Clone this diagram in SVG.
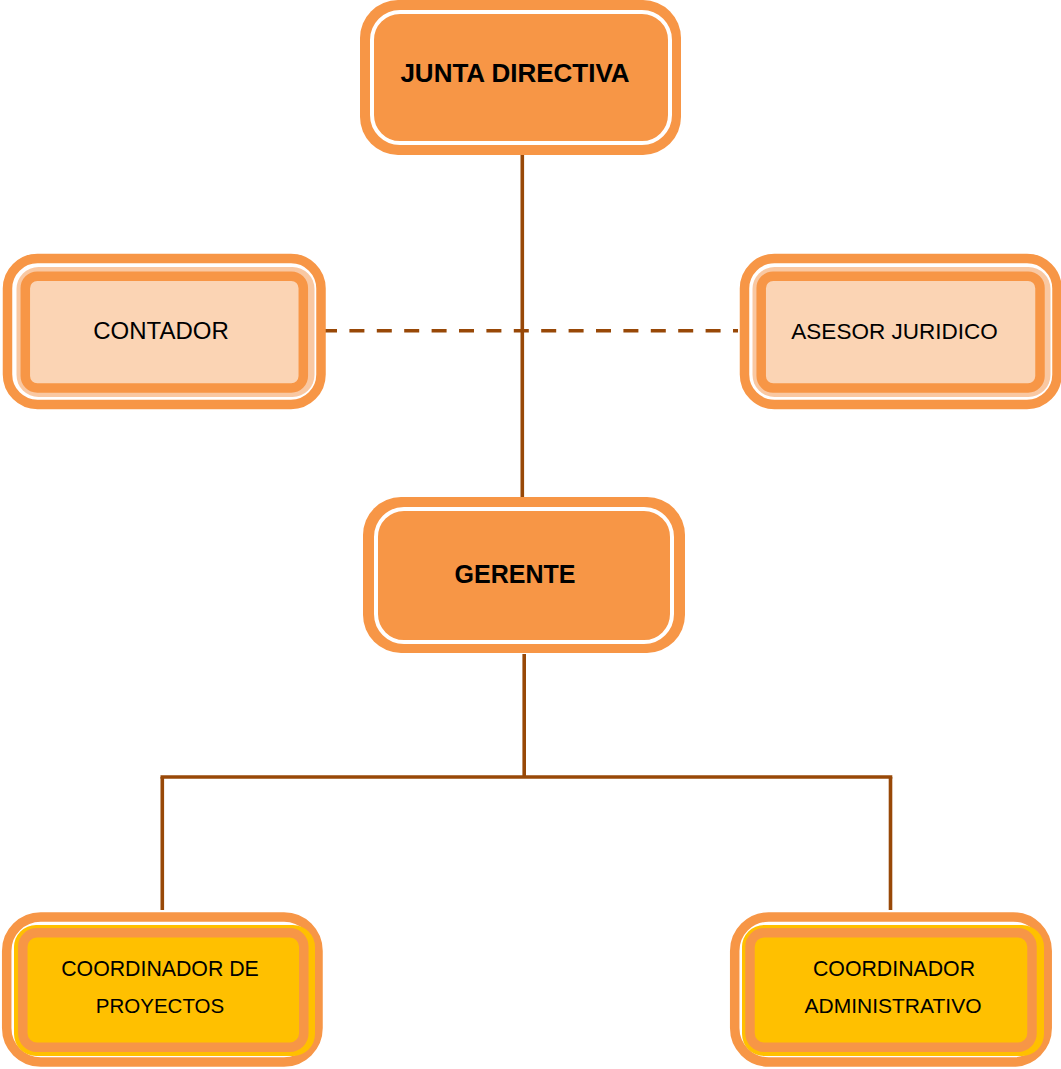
<svg xmlns="http://www.w3.org/2000/svg" width="1061" height="1069" viewBox="0 0 1061 1069">
  <style>
    .conn { stroke: #984807; stroke-width: 3.6; fill: none; }
    .dash { stroke-dasharray: 15 12.4; }
    .main-bg { fill: #F79646; }
    .main-line { fill: none; stroke: #FFFFFF; stroke-width: 4; }
    .ring { fill: #FFFFFF; stroke: #F79646; stroke-width: 9.5; }
    .pale { fill: #F9C8A2; }
    .peach { fill: #FBD4B4; stroke: #F79646; stroke-width: 9.5; }
    .yband { fill: #FFC000; }
    .yellow { fill: #FFC000; stroke: #F79646; stroke-width: 9.5; }
    .t { font-family: "Liberation Sans", Arial, sans-serif; fill: #000000; text-anchor: middle; }
    .tb { font-weight: bold; }
  </style>
  <rect width="1061" height="1069" fill="#FFFFFF"/>

  <g id="connectors">
    <line class="conn" x1="522.3" y1="155" x2="522.3" y2="499"/>
    <line class="conn dash" x1="322" y1="330.7" x2="738" y2="330.7"/>
    <line class="conn" x1="524.2" y1="654" x2="524.2" y2="777"/>
    <line class="conn" x1="160.5" y1="777" x2="892.3" y2="777"/>
    <line class="conn" x1="162.3" y1="777" x2="162.3" y2="910"/>
    <line class="conn" x1="890.5" y1="777" x2="890.5" y2="910"/>
  </g>

  <g id="junta-directiva">
    <rect class="main-bg" x="360" y="0" width="321" height="155" rx="38"/>
    <rect class="main-line" x="372" y="12" width="298" height="131" rx="28"/>
    <text class="t tb" x="515" y="82" font-size="26">JUNTA DIRECTIVA</text>
  </g>

  <g id="gerente">
    <rect class="main-bg" x="363" y="497" width="322" height="156" rx="38"/>
    <rect class="main-line" x="376" y="509" width="296" height="133" rx="28"/>
    <text class="t tb" x="515" y="583" font-size="25">GERENTE</text>
  </g>

  <g id="contador">
    <rect class="ring" x="7.5" y="258.5" width="313.5" height="146" rx="30"/>
    <rect class="pale" x="16.5" y="267" width="298" height="130" rx="22"/>
    <rect class="peach" x="25.3" y="276.2" width="278" height="111.8" rx="12"/>
    <text class="t" x="161" y="339" font-size="24">CONTADOR</text>
  </g>

  <g id="asesor-juridico">
    <rect class="ring" x="744.5" y="258.5" width="312.5" height="146" rx="30"/>
    <rect class="pale" x="752.5" y="267" width="298" height="130" rx="22"/>
    <rect class="peach" x="761.2" y="276.2" width="278.8" height="111.8" rx="12"/>
    <text class="t" x="894.5" y="339" font-size="22.5">ASESOR JURIDICO</text>
  </g>

  <g id="coordinador-proyectos">
    <rect class="ring" x="6.7" y="917" width="311.3" height="145" rx="34"/>
    <rect class="yband" x="14" y="925" width="301" height="131" rx="22"/>
    <rect class="yellow" x="22.8" y="932.8" width="281" height="114.4" rx="14"/>
    <text class="t" x="160" y="976" font-size="21.3">COORDINADOR DE</text>
    <text class="t" x="160" y="1013" font-size="20.5">PROYECTOS</text>
  </g>

  <g id="coordinador-administrativo">
    <rect class="ring" x="734.7" y="917" width="312.5" height="145" rx="34"/>
    <rect class="yband" x="742" y="925" width="302" height="131" rx="22"/>
    <rect class="yellow" x="750" y="932.8" width="282" height="114.4" rx="14"/>
    <text class="t" x="894" y="976" font-size="21.3">COORDINADOR</text>
    <text class="t" x="893" y="1013" font-size="21">ADMINISTRATIVO</text>
  </g>
</svg>
